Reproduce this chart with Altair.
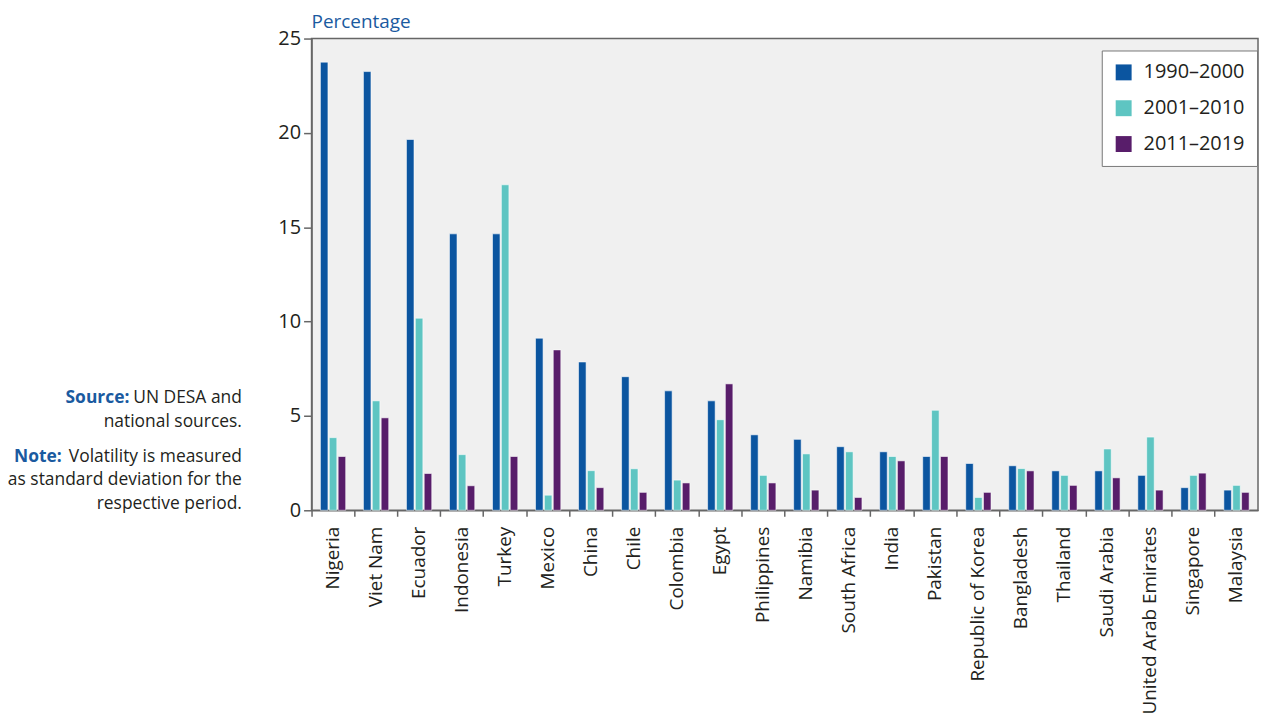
import altair as alt
import pandas as pd

countries = ["Nigeria", "Viet Nam", "Ecuador", "Indonesia", "Turkey", "Mexico", "China",
             "Chile", "Colombia", "Egypt", "Philippines", "Namibia", "South Africa", "India",
             "Pakistan", "Republic of Korea", "Bangladesh", "Thailand", "Saudi Arabia",
             "United Arab Emirates", "Singapore", "Malaysia"]
periods = ["1990–2000", "2001–2010", "2011–2019"]
v1990 = [23.75, 23.25, 19.65, 14.65, 14.65, 9.12, 7.86, 7.08, 6.33, 5.8, 4.0, 3.76,
         3.37, 3.1, 2.85, 2.48, 2.36, 2.09, 2.09, 1.85, 1.2, 1.07]
v2001 = [3.85, 5.8, 10.18, 2.95, 17.25, 0.8, 2.1, 2.2, 1.6, 4.8, 1.85, 2.99,
         3.1, 2.85, 5.3, 0.68, 2.21, 1.85, 3.25, 3.88, 1.85, 1.32]
v2011 = [2.85, 4.9, 1.95, 1.3, 2.85, 8.5, 1.2, 0.95, 1.45, 6.7, 1.45, 1.07,
         0.68, 2.62, 2.85, 0.95, 2.09, 1.32, 1.72, 1.07, 1.97, 0.95]
colors = ["#0b55a0", "#5ec5c2", "#581d6a"]
y_ticks = [0, 5, 10, 15, 20, 25]
y_title = "Percentage"

source_lines = [("Source:", "UN DESA and"), ("", "national sources."),
                ("Note:", "Volatility is measured"), ("", "as standard deviation for the"),
                ("", "respective period.")]

rows = []
for i, c in enumerate(countries):
    for p, vals in zip(periods, [v1990, v2001, v2011]):
        rows.append({"country": c, "period": p, "value": vals[i]})
df = pd.DataFrame(rows)

FONT = "Open Sans"
TEXT = "#231f20"

bars = alt.Chart(df).mark_bar(stroke="white", strokeWidth=0.8, strokeOpacity=0.7).encode(
    x=alt.X("country:N", sort=countries, title=None,
            scale=alt.Scale(paddingInner=0, paddingOuter=0),
            axis=alt.Axis(labelAngle=-90, labelFontSize=19, labelFont=FONT,
                          labelColor=TEXT, tickSize=6, tickColor="#666666",
                          tickWidth=1.5, domainColor="#666666", domainWidth=1.5,
                          labelPadding=10, bandPosition=0, labelLimit=300)),
    xOffset=alt.XOffset("period:N", sort=periods,
                        scale=alt.Scale(paddingInner=0.15, paddingOuter=1)),
    y=alt.Y("value:Q", title=None,
            scale=alt.Scale(domain=[0, 25], nice=False),
            axis=alt.Axis(values=y_ticks, grid=False, labelFontSize=20, labelFont=FONT,
                          labelColor=TEXT, tickSize=8, tickColor="#666666",
                          tickWidth=1.5, domainColor="#666666", domainWidth=1.5,
                          labelPadding=3)),
    color=alt.Color("period:N", sort=periods,
                    scale=alt.Scale(domain=periods, range=colors),
                    legend=alt.Legend(title=None, orient="none", legendX=794, legendY=12,
                                      symbolType="square", symbolSize=256,
                                      symbolStrokeWidth=0, labelFontSize=20,
                                      labelFont=FONT, labelColor=TEXT,
                                      fillColor="white", strokeColor="#777777",
                                      padding=12, rowPadding=16, labelOffset=10,
                                      symbolOffset=0)),
)

layers = [bars]
layers.append(
    alt.Chart(pd.DataFrame({"t": [y_title]})).mark_text(
        align="left", baseline="middle", fontSize=19, font=FONT, color="#1a5aa0"
    ).encode(text="t:N", x=alt.value(0), y=alt.value(-17))
)
ys = [361, 385, 420, 444, 468]
for (bold, regular), yy in zip(source_lines, ys):
    layers.append(
        alt.Chart(pd.DataFrame({"t": [regular]})).mark_text(
            align="right", baseline="middle", fontSize=17.5, font=FONT, color=TEXT
        ).encode(text="t:N", x=alt.value(-70), y=alt.value(yy))
    )
    if bold:
        bx = -183 if bold == "Source:" else -251
        layers.append(
            alt.Chart(pd.DataFrame({"t": [bold]})).mark_text(
                align="right", baseline="middle", fontSize=17.5, font=FONT,
                fontWeight="bold", color="#1a5aa0"
            ).encode(text="t:N", x=alt.value(bx), y=alt.value(yy))
        )

chart = alt.layer(*layers).properties(
    width=951, height=474,
    autosize=alt.AutoSizeParams(type="none"),
    padding={"left": 305, "top": 29, "right": 2, "bottom": 206},
).configure_view(fill="#f0f0f0", stroke="#666666", strokeWidth=1.5)

chart.save("out.html", embed_options={"renderer": "svg", "actions": False})
